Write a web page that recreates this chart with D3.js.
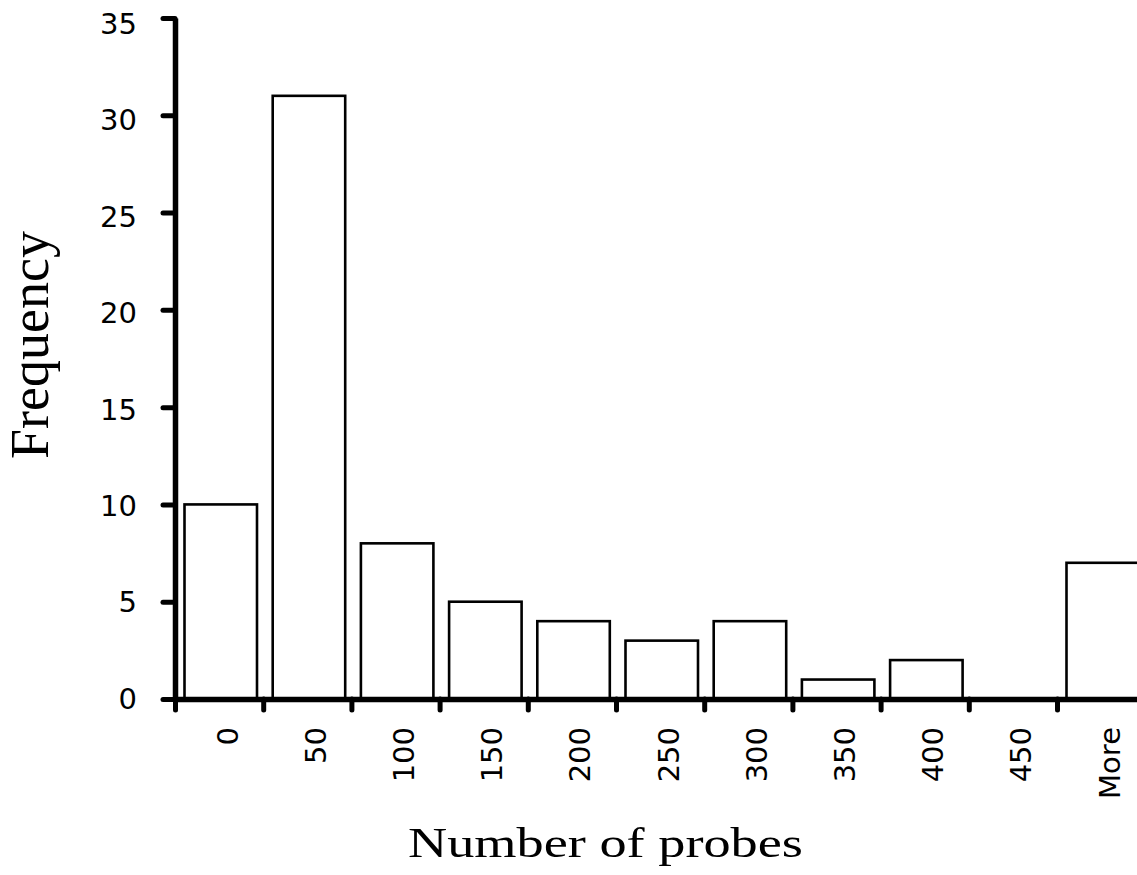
<!DOCTYPE html>
<html>
<head>
<meta charset="utf-8">
<script src="https://cdn.jsdelivr.net/npm/d3@7"></script>
<style>
  html, body { margin: 0; padding: 0; background: #fff; }
  svg { display: block; }
</style>
</head>
<body>
<svg id="chart" width="1137" height="875"></svg>
<script>
// Histogram bins (upper edge of each bin) and their counts
const binLabels = ["0", "50", "100", "150", "200", "250", "300", "350", "400", "450", "More"];
const frequency = [10, 31, 8, 5, 4, 3, 4, 1, 2, 0, 7];
const yTickValues = [0, 5, 10, 15, 20, 25, 30, 35];

const svg = d3.select("#chart");

const x0 = 175, step = 88.2;
const xBand = d3.scaleBand()
  .domain(binLabels)
  .range([x0, x0 + step * binLabels.length])
  .padding(0);

// bin edges for the tick marks under the axis
const xEdge = d3.scaleLinear()
  .domain([0, binLabels.length])
  .range([x0, x0 + step * binLabels.length]);

const y = d3.scaleLinear().domain([0, 35]).range([699, 18]);

// bars
const barInset = 9.5, barWidth = 72.5;
svg.append("g")
  .selectAll("rect")
  .data(frequency.map((v, i) => ({ label: binLabels[i], value: v })))
  .join("rect")
  .attr("x", d => xBand(d.label) + barInset)
  .attr("y", d => y(d.value))
  .attr("width", barWidth)
  .attr("height", d => y(0) - y(d.value))
  .attr("fill", "#fff")
  .attr("stroke", "#000")
  .attr("stroke-width", 2.6);

// y axis
const yAxis = svg.append("g")
  .attr("transform", `translate(${x0},0)`)
  .call(d3.axisLeft(y).tickValues(yTickValues).tickSize(12).tickSizeOuter(0).tickPadding(26));
yAxis.select(".domain").attr("stroke-width", 5.5);
yAxis.selectAll(".tick line").attr("stroke-width", 5).attr("stroke-linecap", "round");
yAxis.selectAll(".tick text")
  .attr("font-family", "DejaVu Sans, Verdana, sans-serif")
  .attr("font-size", 29)
  .attr("fill", "#000")
  .attr("dy", d => (0.32 + d * 0.006) + "em");

// x axis with ticks at the bin edges
const xAxis = svg.append("g")
  .attr("transform", `translate(0,${y(0)})`)
  .call(d3.axisBottom(xEdge)
    .tickValues(d3.range(0, binLabels.length))
    .tickFormat("")
    .tickSize(11)
    .tickSizeOuter(0));
xAxis.select(".domain").attr("stroke-width", 5.5);
xAxis.selectAll(".tick line").attr("stroke-width", 5).attr("stroke-linecap", "round");

// rotated bin labels
svg.append("g")
  .selectAll("text")
  .data(binLabels)
  .join("text")
  .attr("transform", d => `translate(${xBand(d) + xBand.bandwidth() / 2 + 8},727) rotate(-90)`)
  .attr("dy", "0.36em")
  .attr("text-anchor", "end")
  .attr("font-family", "DejaVu Sans, Verdana, sans-serif")
  .attr("font-size", 29)
  .attr("fill", "#000")
  .text(d => d);

// axis titles
svg.append("text")
  .attr("transform", "translate(48,345) rotate(-90)")
  .attr("text-anchor", "middle")
  .attr("font-family", "Liberation Serif, Times New Roman, serif")
  .attr("font-size", 54)
  .attr("fill", "#000")
  .text("Frequency");

svg.append("text")
  .attr("x", 408)
  .attr("y", 857)
  .attr("textLength", 395)
  .attr("lengthAdjust", "spacingAndGlyphs")
  .attr("font-family", "Liberation Serif, Times New Roman, serif")
  .attr("font-size", 43)
  .attr("fill", "#000")
  .text("Number of probes");
</script>
</body>
</html>
